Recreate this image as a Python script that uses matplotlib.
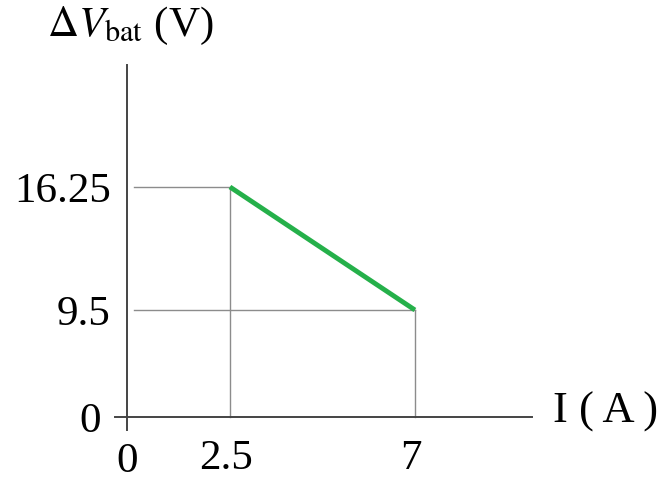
import numpy as np
import matplotlib
matplotlib.use('Agg')
import matplotlib.pyplot as plt
from matplotlib.transforms import ScaledTranslation

plt.rcParams['font.family'] = ['Liberation Serif', 'DejaVu Serif']
plt.rcParams['mathtext.fontset'] = 'stix'

# Данные: ток и падение напряжения батареи
current = [2.5, 7]
voltage = [16.25, 9.5]
x_ticks = [0, 2.5, 7]
x_labels = ['0', '2.5', '7']
y_ticks = [0, 9.5, 16.25]
y_labels = ['0', '9.5', '16.25']

# Кусочно-линейная шкала по Y (схематичный график)
y_vals = np.array([-10.0, 0.0, 9.5, 16.25, 40.0])
y_pix = np.array([65 - 112.6, 65.0, 172.0, 295.0, 727.7])


def fwd(v):
    return np.interp(v, y_vals, y_pix)


def inv(p):
    return np.interp(p, y_pix, y_vals)


fig = plt.figure(figsize=(6.66, 4.82), dpi=100)
ax = fig.add_axes([0, 0, 1, 1])
ax.set_yscale('function', functions=(fwd, inv))
ax.set_xlim(-127.2 / 41.1, (666 - 127.2) / 41.1)
ax.set_ylim(-5.77, 26.51)

axis_color = '#444444'
guide_color = '#8c8c8c'

# Оси
for side in ['top', 'right']:
    ax.spines[side].set_visible(False)
ax.spines['left'].set_position(('data', 0))
ax.spines['bottom'].set_position(('data', 0))
ax.spines['left'].set_bounds(-1.15, 22.95)
ax.spines['bottom'].set_bounds(-0.30, 9.84)
ax.spines['left'].set_color(axis_color)
ax.spines['bottom'].set_color(axis_color)
ax.spines['left'].set_linewidth(1.4)
ax.spines['bottom'].set_linewidth(1.4)

ax.set_xticks(x_ticks, x_labels)
ax.set_yticks(y_ticks, y_labels)
ax.minorticks_off()
ax.tick_params(axis='x', length=0, pad=18, labelsize=31)
ax.tick_params(axis='y', length=0, pad=12, labelsize=31)

# нули чуть отодвинуты от осей
for lab in ax.get_xticklabels()[1:]:
    lab.set_transform(lab.get_transform() + ScaledTranslation(-3 / 72, 2 / 72, fig.dpi_scale_trans))
yl0 = ax.get_yticklabels()[0]
yl0.set_transform(yl0.get_transform() + ScaledTranslation(-7 / 72, 0, fig.dpi_scale_trans))

# Вспомогательные линии
x0 = 0.16
for xi, yi in zip(current, voltage):
    ax.plot([x0, xi], [yi, yi], color=guide_color, lw=1.0, zorder=1)
    ax.plot([xi, xi], [0, yi], color=guide_color, lw=1.0, zorder=1)

# Основная линия
ax.plot(current, voltage, color='#25b04a', lw=3.5, solid_capstyle='butt', zorder=3)

# Подписи осей
fig.text(47 / 666, 1 - 26 / 482, r'$\Delta V_{\mathrm{bat}}$ (V)', fontsize=31,
         ha='left', va='center')
fig.text(553 / 666, 1 - 412 / 482, 'I ( A )', fontsize=32, ha='left', va='center')

fig.savefig('out.png', dpi=100)
